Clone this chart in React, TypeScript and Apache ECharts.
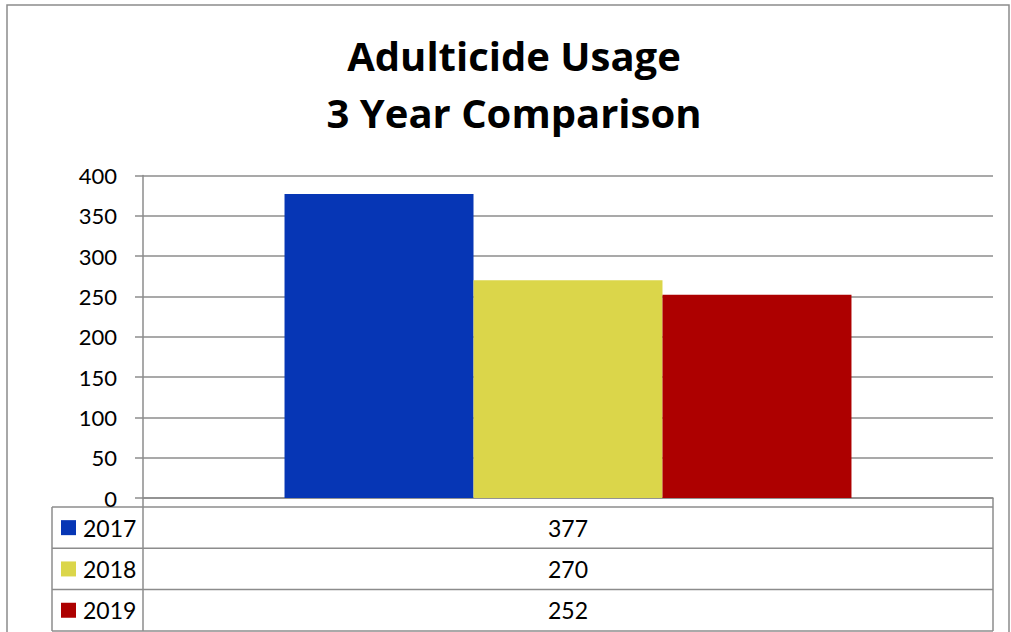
import React, { useEffect, useRef } from "react";
import * as echarts from "echarts";

const titleLines = ["Adulticide Usage", "3 Year Comparison"];
const categories = [""];
const years = ["2017", "2018", "2019"];
const values = [377, 270, 252];
const colors = ["#0636b5", "#dbd64a", "#ad0000"];
const yTicks = { min: 0, max: 400, interval: 50 };

export default function App() {
  const ref = useRef<HTMLDivElement>(null);
  useEffect(() => {
    if (!ref.current) return;
    const chart = echarts.init(ref.current, null, { renderer: "svg" });
    const W = 1011;
    const gridLeft = 143;
    const gridRight = 993;
    const gridTop = 175.5;
    const gridBottom = 498;
    const tableTop = 507;
    const rowH = 41.3;
    const tableLeft = 52;
    const lineColor = "#8c8c8c";
    const font = "Lato, 'Open Sans', sans-serif";
    const titleFont = "'Open Sans', Lato, sans-serif";

    const graphics: any[] = [];
    graphics.push({
      type: "rect",
      shape: { x: 7, y: 5, width: 1002, height: 700 },
      style: { fill: "none", stroke: lineColor, lineWidth: 1.5 },
      silent: true,
    });
    const hl = (y: number, x1: number, x2: number) =>
      graphics.push({
        type: "line",
        shape: { x1, y1: y, x2, y2: y },
        style: { stroke: lineColor, lineWidth: 1.5 },
        silent: true,
      });
    const vl = (x: number, y1: number, y2: number) =>
      graphics.push({
        type: "line",
        shape: { x1: x, y1, x2: x, y2 },
        style: { stroke: lineColor, lineWidth: 1.5 },
        silent: true,
      });
    for (let i = 0; i <= years.length; i++) hl(tableTop + i * rowH, tableLeft, gridRight);
    vl(tableLeft, tableTop, tableTop + years.length * rowH);
    vl(gridLeft, gridBottom, tableTop + years.length * rowH);
    vl(gridRight, gridBottom, tableTop + years.length * rowH);
    years.forEach((yr, i) => {
      const cy = tableTop + i * rowH + rowH / 2;
      graphics.push({
        type: "rect",
        shape: { x: 61, y: cy - 7.5, width: 15, height: 15 },
        style: { fill: colors[i] },
        silent: true,
      });
      graphics.push({
        type: "text",
        x: 83,
        y: cy,
        style: {
          text: yr,
          font: `23px ${font}`,
          fill: "#000",
          verticalAlign: "middle",
        },
        silent: true,
      });
      graphics.push({
        type: "text",
        x: (gridLeft + gridRight) / 2,
        y: cy,
        style: {
          text: String(values[i]),
          font: `23px ${font}`,
          fill: "#000",
          align: "center",
          verticalAlign: "middle",
        },
        silent: true,
      });
    });

    chart.setOption({
      animation: false,
      title: {
        text: titleLines.join("\n"),
        left: 509,
        top: 22,
        textAlign: "center",
        textStyle: {
          fontFamily: titleFont,
          fontWeight: "bold",
          fontSize: 40,
          lineHeight: 57,
          color: "#000",
        },
      },
      grid: {
        left: gridLeft,
        right: W - gridRight,
        top: gridTop,
        bottom: 632 - gridBottom,
        containLabel: false,
      },
      xAxis: {
        type: "category",
        data: categories,
        axisLine: { show: true, lineStyle: { color: lineColor, width: 1.5 } },
        axisTick: { show: false },
        axisLabel: { show: false },
      },
      yAxis: {
        type: "value",
        min: yTicks.min,
        max: yTicks.max,
        interval: yTicks.interval,
        axisLine: { show: true, lineStyle: { color: lineColor, width: 1.5 } },
        axisTick: { show: true, length: 8, lineStyle: { color: lineColor, width: 1.5 } },
        axisLabel: { margin: 26, fontSize: 22, fontFamily: font, color: "#000" },
        splitLine: { show: true, lineStyle: { color: lineColor, width: 1.5 } },
      },
      series: years.map((yr, i) => ({
        name: yr,
        type: "bar",
        data: [values[i]],
        barGap: "0%",
        barCategoryGap: "33.3%",
        itemStyle: { color: colors[i] },
      })),
      graphic: graphics,
    });
    return () => chart.dispose();
  }, []);
  return (
    <div
      ref={ref}
      style={{ position: "fixed", left: 0, top: 0, width: 1011, height: 632, background: "#fff" }}
    />
  );
}
